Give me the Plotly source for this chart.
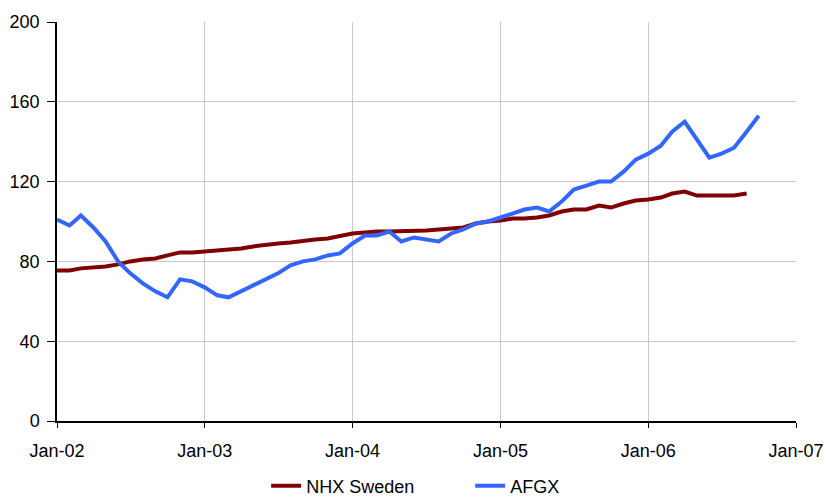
import plotly.graph_objects as go
import pandas as pd

months = pd.date_range('2002-01-01', '2006-10-01', freq='MS')

nhx_sweden = [
    75.5, 75.5, 76.5, 77, 77.5, 78.5, 80, 81, 81.5, 83, 84.5, 84.5,
    85, 85.5, 86, 86.5, 87.5, 88.5, 89, 89.5, 90.5, 91, 91.5, 92.5,
    94, 94.5, 95, 95, 95, 95.5, 95.5, 96, 96.5, 97, 99, 100,
    100.5, 101.5, 101.5, 102, 103, 105, 106, 106, 108, 107, 109, 110.5,
    111, 112, 114, 115, 113, 113, 112.5, 113, 114,
]
afgx = [
    101, 98, 103, 97, 90, 80, 74, 69, 65, 62, 71, 70,
    67, 63, 62, 65, 68, 71, 74, 78, 80, 81, 83, 84,
    89, 93, 93, 95, 90, 92, 91, 90, 94, 96, 99, 100,
    102, 104, 106, 107, 105, 110, 116, 118, 120, 120, 125, 131,
    134, 138, 145, 150, 141, 132, 134, 137, 145, 153,
]

maroon = 'rgb(128,0,0)'
blue = 'rgb(51,102,255)'
grid = 'rgb(200,200,200)'

fig = go.Figure()
fig.add_trace(go.Scatter(x=months[:len(nhx_sweden)], y=nhx_sweden, name='NHX Sweden',
                         mode='lines', line=dict(color=maroon, width=4)))
fig.add_trace(go.Scatter(x=months[:len(afgx)], y=afgx, name='AFGX',
                         mode='lines', line=dict(color=blue, width=4)))

fig.update_layout(
    width=825, height=497,
    margin=dict(l=57, r=29, t=22, b=76, autoexpand=False),
    plot_bgcolor='white', paper_bgcolor='white',
    font=dict(family='Liberation Sans, Arial', size=18, color='black'),
    showlegend=True,
    legend=dict(orientation='h', x=0.283, xanchor='left', y=-0.163, yanchor='middle',
                font=dict(size=18), entrywidth=159, entrywidthmode='pixels',
                tracegroupgap=0),
)
fig.update_xaxes(
    range=['2002-01-01', '2007-01-01'], tickvals=pd.date_range('2002-01-01', '2007-01-01', freq='YS'),
    tickformat='%b-%y', showgrid=True, gridcolor=grid, gridwidth=1,
    showline=True, linecolor='black', linewidth=1.5, ticks='outside', ticklen=5,
    tickcolor='black', zeroline=False, mirror=False, ticklabelstandoff=8,
)
fig.update_yaxes(
    range=[0, 200], dtick=40, showgrid=True, gridcolor=grid, gridwidth=1,
    showline=True, linecolor='black', linewidth=1.5, ticks='outside', ticklen=8,
    tickcolor='black', zeroline=False, ticklabelstandoff=4,
)

# drop the browser's default body margin so the figure fills the window exactly
fig.write_html('out.html', config={'displayModeBar': False},
               post_script="document.body.style.margin='0';")
